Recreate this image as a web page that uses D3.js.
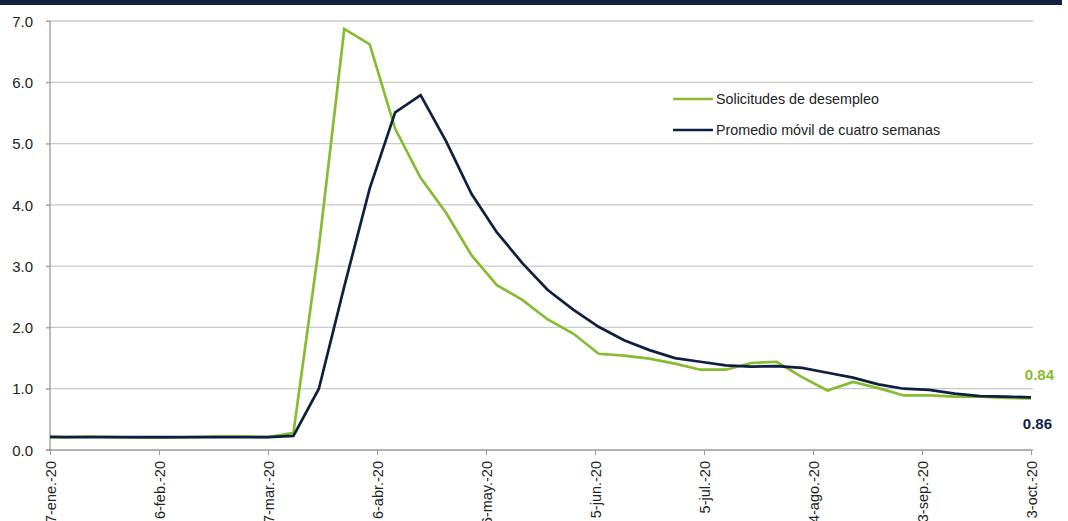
<!DOCTYPE html>
<html>
<head>
<meta charset="utf-8">
<script src="https://cdn.jsdelivr.net/npm/d3@7"></script>
<style>
  html, body { margin: 0; padding: 0; background: #fff; overflow: hidden; }
  svg { display: block; }
  .lbl { font-family: "Liberation Sans Narrow", "Arial Narrow", "Liberation Sans", Arial, sans-serif; }
</style>
</head>
<body>
<svg id="chart" width="1068" height="521"></svg>
<script>
// Weekly initial jobless claims, millions (weeks ending Saturday)
const weeks = [
  "2020-01-04","2020-01-11","2020-01-18","2020-01-25","2020-02-01","2020-02-08","2020-02-15","2020-02-22",
  "2020-02-29","2020-03-07","2020-03-14","2020-03-21","2020-03-28","2020-04-04","2020-04-11","2020-04-18",
  "2020-04-25","2020-05-02","2020-05-09","2020-05-16","2020-05-23","2020-05-30","2020-06-06","2020-06-13",
  "2020-06-20","2020-06-27","2020-07-04","2020-07-11","2020-07-18","2020-07-25","2020-08-01","2020-08-08",
  "2020-08-15","2020-08-22","2020-08-29","2020-09-05","2020-09-12","2020-09-19","2020-09-26","2020-10-03"
];
const claims = [
  0.21,0.21,0.22,0.21,0.20,0.20,0.21,0.22,
  0.22,0.21,0.28,3.31,6.87,6.62,5.24,4.44,
  3.87,3.18,2.69,2.45,2.13,1.90,1.57,1.54,
  1.49,1.41,1.31,1.31,1.42,1.44,1.19,0.97,
  1.11,1.01,0.89,0.89,0.87,0.87,0.85,0.84
];
const movingAvg = [
  0.22,0.21,0.21,0.21,0.21,0.21,0.21,0.21,
  0.21,0.21,0.23,1.00,2.67,4.27,5.51,5.79,
  5.04,4.18,3.55,3.05,2.61,2.29,2.01,1.79,
  1.63,1.50,1.44,1.38,1.36,1.37,1.34,1.26,
  1.18,1.07,1.00,0.98,0.92,0.88,0.87,0.86
];
const seriesNames = ["Solicitudes de desempleo", "Promedio móvil de cuatro semanas"];
const tickDates = ["2020-01-07","2020-02-06","2020-03-07","2020-04-06","2020-05-06","2020-06-05",
                   "2020-07-05","2020-08-04","2020-09-03","2020-10-03"];
const tickLabels = ["7-ene.-20","6-feb.-20","7-mar.-20","6-abr.-20","6-may.-20","5-jun.-20",
                    "5-jul.-20","4-ago.-20","3-sep.-20","3-oct.-20"];
const yTicks = [0,1,2,3,4,5,6,7];
const endLabels = ["0.84", "0.86"];

const GREEN = "#86bc2f", NAVY = "#0f1f3f";
const parse = d3.utcParse("%Y-%m-%d");
const svg = d3.select("#chart");

// header band
svg.append("rect").attr("x", 0).attr("y", 0).attr("width", 1062).attr("height", 5).attr("fill", "#13203f");

const plotL = 50, plotR = 1031, plotT = 21, plotB = 450;
const x = d3.scaleUtc().domain([parse(tickDates[0]), parse(tickDates[tickDates.length - 1])]).range([plotL, plotR]);
const y = d3.scaleLinear().domain([0, 7]).range([plotB, plotT]);

// horizontal gridlines
svg.append("g").selectAll("line").data(yTicks.filter(d => d > 0)).join("line")
  .attr("x1", plotL - 4).attr("x2", plotR + 2)
  .attr("y1", d => y(d)).attr("y2", d => y(d))
  .attr("stroke", "#c9c9c9").attr("stroke-width", 1.3);

// y axis
const yAxis = svg.append("g").attr("transform", `translate(${plotL},0)`)
  .call(d3.axisLeft(y).tickValues(yTicks).tickFormat(d3.format(".1f")).tickSize(4).tickPadding(13));
yAxis.select(".domain").attr("stroke", "#9a9a9a").attr("stroke-width", 1.3).attr("d", `M0,${plotT}V${plotB}`);
yAxis.selectAll(".tick line").attr("stroke", "#9a9a9a");
yAxis.selectAll(".tick text").attr("class", "lbl").attr("font-size", 15).attr("fill", "#222").attr("dy", "0.35em");

// x axis
const xAxis = svg.append("g").attr("transform", `translate(0,${plotB})`)
  .call(d3.axisBottom(x).tickValues(tickDates.map(parse)).tickFormat((d, i) => tickLabels[i]).tickSize(5).tickSizeOuter(0));
xAxis.select(".domain").attr("stroke", "#9a9a9a").attr("stroke-width", 1.3).attr("d", `M${plotL - 4},0H${plotR + 2}`);
xAxis.selectAll(".tick line").attr("stroke", "#9a9a9a");
xAxis.selectAll(".tick text")
  .attr("class", "lbl").attr("font-size", 14.5).attr("fill", "#222")
  .attr("text-anchor", "end").attr("transform", "rotate(-90)")
  .attr("x", -11).attr("y", 0).attr("dy", "0.36em");

// series lines, clipped to the plot area
svg.append("clipPath").attr("id", "plot").append("rect")
  .attr("x", plotL).attr("y", 0).attr("width", plotR - plotL + 2).attr("height", plotB + 2);
const line = vals => d3.line().x((d, i) => x(parse(weeks[i]))).y(d => y(d))(vals);
const lines = svg.append("g").attr("clip-path", "url(#plot)");
lines.append("path").attr("d", line(claims)).attr("fill", "none").attr("stroke", GREEN)
  .attr("stroke-width", 2.7).attr("stroke-linejoin", "miter");
lines.append("path").attr("d", line(movingAvg)).attr("fill", "none").attr("stroke", NAVY)
  .attr("stroke-width", 2.7).attr("stroke-linejoin", "miter");

// end value labels
svg.append("text").attr("class", "lbl").attr("x", 1054).attr("y", 375).attr("dy", "0.36em")
  .attr("text-anchor", "end").attr("font-size", 15).attr("font-weight", "bold").attr("fill", GREEN).text(endLabels[0]);
svg.append("text").attr("class", "lbl").attr("x", 1052).attr("y", 424).attr("dy", "0.36em")
  .attr("text-anchor", "end").attr("font-size", 15).attr("font-weight", "bold").attr("fill", NAVY).text(endLabels[1]);

// legend
const legend = svg.append("g");
[[GREEN, 99], [NAVY, 130]].forEach(([c, ly], i) => {
  legend.append("line").attr("x1", 673).attr("x2", 713).attr("y1", ly).attr("y2", ly)
    .attr("stroke", c).attr("stroke-width", 2.7);
  legend.append("text").attr("class", "lbl").attr("x", 716).attr("y", ly).attr("dy", "0.36em")
    .attr("font-size", 14.3).attr("fill", "#222").text(seriesNames[i]);
});
</script>
</body>
</html>
